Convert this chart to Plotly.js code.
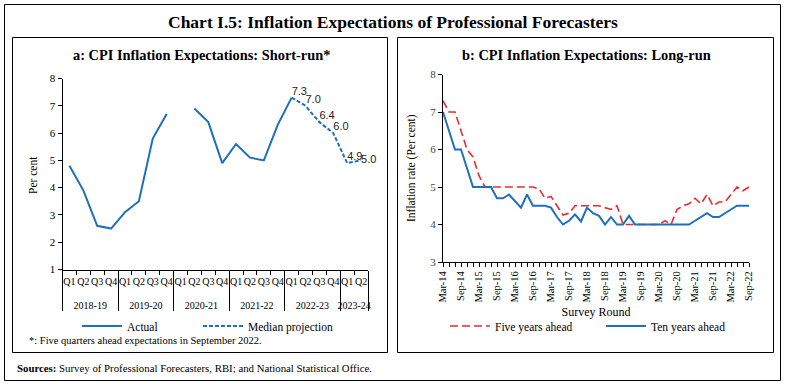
<!DOCTYPE html>
<html>
<head>
<meta charset="utf-8">
<script src="https://cdn.plot.ly/plotly-3.0.1.min.js"></script>
<style>html,body{margin:0;padding:0;background:#fff;}#chart{width:785px;height:385px;}</style>
</head>
<body>
<div id="chart"></div>
<script>
// ---- Panel a: short-run ----
const fiscalYears = ['2018-19','2018-19','2018-19','2018-19','2019-20','2019-20','2019-20','2019-20',
  '2020-21','2020-21','2020-21','2020-21','2021-22','2021-22','2021-22','2021-22',
  '2022-23','2022-23','2022-23','2022-23','2023-24','2023-24'];
const quarters = ['Q1','Q2','Q3','Q4','Q1','Q2','Q3','Q4','Q1','Q2','Q3','Q4','Q1','Q2','Q3','Q4','Q1','Q2','Q3','Q4','Q1','Q2'];
const actual = [4.8,3.9,2.6,2.5,3.1,3.5,5.8,6.7,null,6.9,6.4,4.9,5.6,5.1,5.0,6.3,7.3,null,null,null,null,null];
const medianProjection = [null,null,null,null,null,null,null,null,null,null,null,null,null,null,null,null,7.3,7.0,6.4,6.0,4.9,5.0];

// ---- Panel b: long-run ----
const surveyRounds = ['Mar-14','May-14','Jul-14','Sep-14','Nov-14',
  'Jan-15','Mar-15','May-15','Jul-15','Sep-15','Nov-15',
  'Jan-16','Mar-16','May-16','Jul-16','Sep-16','Nov-16',
  'Jan-17','Mar-17','May-17','Jul-17','Sep-17','Nov-17',
  'Jan-18','Mar-18','May-18','Jul-18','Sep-18','Nov-18',
  'Jan-19','Mar-19','May-19','Jul-19','Sep-19','Nov-19',
  'Jan-20','Mar-20','May-20','Jul-20','Sep-20','Nov-20',
  'Jan-21','Mar-21','May-21','Jul-21','Sep-21','Nov-21',
  'Jan-22','Mar-22','May-22','Jul-22','Sep-22'];
const roundTickLabels = ['Mar-14','Sep-14','Mar-15','Sep-15','Mar-16','Sep-16','Mar-17','Sep-17','Mar-18',
  'Sep-18','Mar-19','Sep-19','Mar-20','Sep-20','Mar-21','Sep-21','Mar-22','Sep-22'];
const fiveYearsAhead = [7.3,7.0,7.0,6.5,6.0,5.8,5.3,5.0,5.0,5.0,5.0,5.0,5.0,5.0,5.0,5.0,4.95,4.7,4.75,4.5,
  4.25,4.3,4.5,4.5,4.5,4.5,4.5,4.45,4.4,4.5,4.0,4.0,4.0,4.0,4.0,4.0,4.0,4.1,4.0,4.4,
  4.5,4.55,4.7,4.55,4.8,4.5,4.6,4.6,4.8,5.0,4.9,5.0];
const tenYearsAhead = [7.0,6.5,6.0,6.0,5.5,5.0,5.0,5.0,5.0,4.7,4.7,4.8,4.63,4.45,4.8,4.5,4.5,4.5,4.45,4.2,
  4.0,4.1,4.27,4.08,4.45,4.3,4.23,4.0,4.2,4.0,4.0,4.23,4.0,4.0,4.02,4.02,4.0,4.0,4.0,4.0,
  4.0,4.0,4.1,4.2,4.3,4.2,4.2,4.3,4.4,4.5,4.5,4.5];

const W = 785, H = 385;
const px = x => x / W;
const py = y => 1 - y / H;
const SERIF = 'Liberation Serif, DejaVu Serif, serif';
const SANS = 'Liberation Sans, Arial, sans-serif';
const BLUE = '#1f6fc1';
const RED = '#ec2a32';

// year group labels sit one line lower under the quarter labels, as in the reference
const yearLabelRow = fiscalYears.map(y => '<br>' + y);
const projPositions = medianProjection.map((v, i) => i === medianProjection.length - 1 ? 'middle right' : 'top right');

const traces = [
  {x:[yearLabelRow, quarters], y:actual, type:'scatter', mode:'lines', name:'Actual',
   line:{color:BLUE, width:2}, xaxis:'x', yaxis:'y', legend:'legend', connectgaps:false},
  {x:[yearLabelRow, quarters], y:medianProjection, type:'scatter', mode:'lines+text', name:'Median projection',
   line:{color:BLUE, width:2, dash:'4px,2px'}, xaxis:'x', yaxis:'y', legend:'legend3',
   text:medianProjection.map(v => v == null ? '' : v.toFixed(1)),
   textposition:projPositions,
   textfont:{family:SANS, size:11, color:'#222'}, cliponaxis:false},
  {x:surveyRounds, y:fiveYearsAhead, type:'scatter', mode:'lines', name:'Five years ahead',
   line:{color:RED, width:1.6, dash:'8px,4px'}, xaxis:'x2', yaxis:'y2', legend:'legend2'},
  {x:surveyRounds, y:tenYearsAhead, type:'scatter', mode:'lines', name:'Ten years ahead',
   line:{color:BLUE, width:2}, xaxis:'x2', yaxis:'y2', legend:'legend4'}
];

const axisCommon = {showline:true, linecolor:'#000', linewidth:1, ticks:'outside', ticklen:4, tickcolor:'#000',
  showgrid:false, zeroline:false, automargin:false, fixedrange:true};

const legendBase = {orientation:'h', xanchor:'left', yanchor:'middle', y:py(326),
  font:{family:SERIF, size:11.5}, itemwidth:40, bgcolor:'rgba(0,0,0,0)'};

const layout = {
  width:W, height:H, margin:{l:0,r:0,t:0,b:0}, paper_bgcolor:'#fff', plot_bgcolor:'#fff',
  font:{family:SERIF, color:'#000', size:11},
  xaxis: Object.assign({}, axisCommon, {type:'multicategory', domain:[px(62.5), px(368)], anchor:'y',
    range:[-0.5, 21.5], autorange:false,
    tickson:'boundaries', tickangle:0, nticks:40, ticklabelstandoff:2,
    tickfont:{family:SERIF, size:10, color:'#000'},
    showdividers:true, dividercolor:'#000', dividerwidth:1}),
  yaxis: Object.assign({}, axisCommon, {domain:[py(269.5), py(78.5)], anchor:'x', range:[1,8], dtick:1,
    tickfont:{family:SERIF, size:11, color:'#000'}}),
  xaxis2: Object.assign({}, axisCommon, {type:'category', domain:[px(443), px(749)], anchor:'y2',
    range:[0, 51], tickmode:'array', tickvals:surveyRounds,
    ticktext:surveyRounds.map(r => roundTickLabels.includes(r) ? r : ''),
    tickangle:-90, tickfont:{family:SERIF, size:10.5, color:'#000'},
    title:{text:'Survey Round', font:{family:SERIF, size:12}, standoff:6}}),
  yaxis2: Object.assign({}, axisCommon, {domain:[py(262), py(74.5)], anchor:'x2', range:[3,8], dtick:1,
    tickfont:{family:SERIF, size:11, color:'#444'}}),
  legend: Object.assign({}, legendBase, {x:px(77)}),
  legend3: Object.assign({}, legendBase, {x:px(198)}),
  legend2: Object.assign({}, legendBase, {x:px(445)}),
  legend4: Object.assign({}, legendBase, {x:px(601)}),
  shapes:[
    {type:'rect', xref:'paper', yref:'paper', x0:px(4.5), x1:px(780.5), y0:py(380.5), y1:py(4.5), line:{color:'#000', width:1}},
    {type:'rect', xref:'paper', yref:'paper', x0:px(12.5), x1:px(387.5), y0:py(352.5), y1:py(37.5), line:{color:'#000', width:1}},
    {type:'rect', xref:'paper', yref:'paper', x0:px(397.5), x1:px(773.5), y0:py(352.5), y1:py(37.5), line:{color:'#000', width:1}}
  ],
  annotations:[
    {text:'<b>Chart I.5: Inflation Expectations of Professional Forecasters</b>', xref:'paper', yref:'paper',
     x:px(393), y:py(22), xanchor:'center', yanchor:'middle', showarrow:false, font:{family:SERIF, size:17.5}},
    {text:'<b>a: CPI Inflation Expectations: Short-run*</b>', xref:'paper', yref:'paper',
     x:px(201), y:py(55), xanchor:'center', yanchor:'middle', showarrow:false, font:{family:SERIF, size:14.4}},
    {text:'<b>b: CPI Inflation Expectations: Long-run</b>', xref:'paper', yref:'paper',
     x:px(586), y:py(55), xanchor:'center', yanchor:'middle', showarrow:false, font:{family:SERIF, size:14.4}},
    {text:'Per cent', xref:'paper', yref:'paper', x:px(33), y:py(175), textangle:-90,
     xanchor:'center', yanchor:'middle', showarrow:false, font:{family:SERIF, size:11.5}},
    {text:'Inflation rate (Per cent)', xref:'paper', yref:'paper', x:px(412), y:py(168), textangle:-90,
     xanchor:'center', yanchor:'middle', showarrow:false, font:{family:SERIF, size:11.5}},
    {text:'*: Five quarters ahead expectations in September 2022.', xref:'paper', yref:'paper',
     x:px(27), y:py(340), xanchor:'left', yanchor:'middle', showarrow:false, font:{family:SERIF, size:10.5}},
    {text:'<b>Sources:</b> Survey of Professional Forecasters, RBI; and National Statistical Office.', xref:'paper', yref:'paper',
     x:px(15), y:py(368), xanchor:'left', yanchor:'middle', showarrow:false, font:{family:SERIF, size:10.8}}
  ],
  showlegend:true
};

Plotly.newPlot('chart', traces, layout, {displayModeBar:false, staticPlot:true});
</script>
</body>
</html>
